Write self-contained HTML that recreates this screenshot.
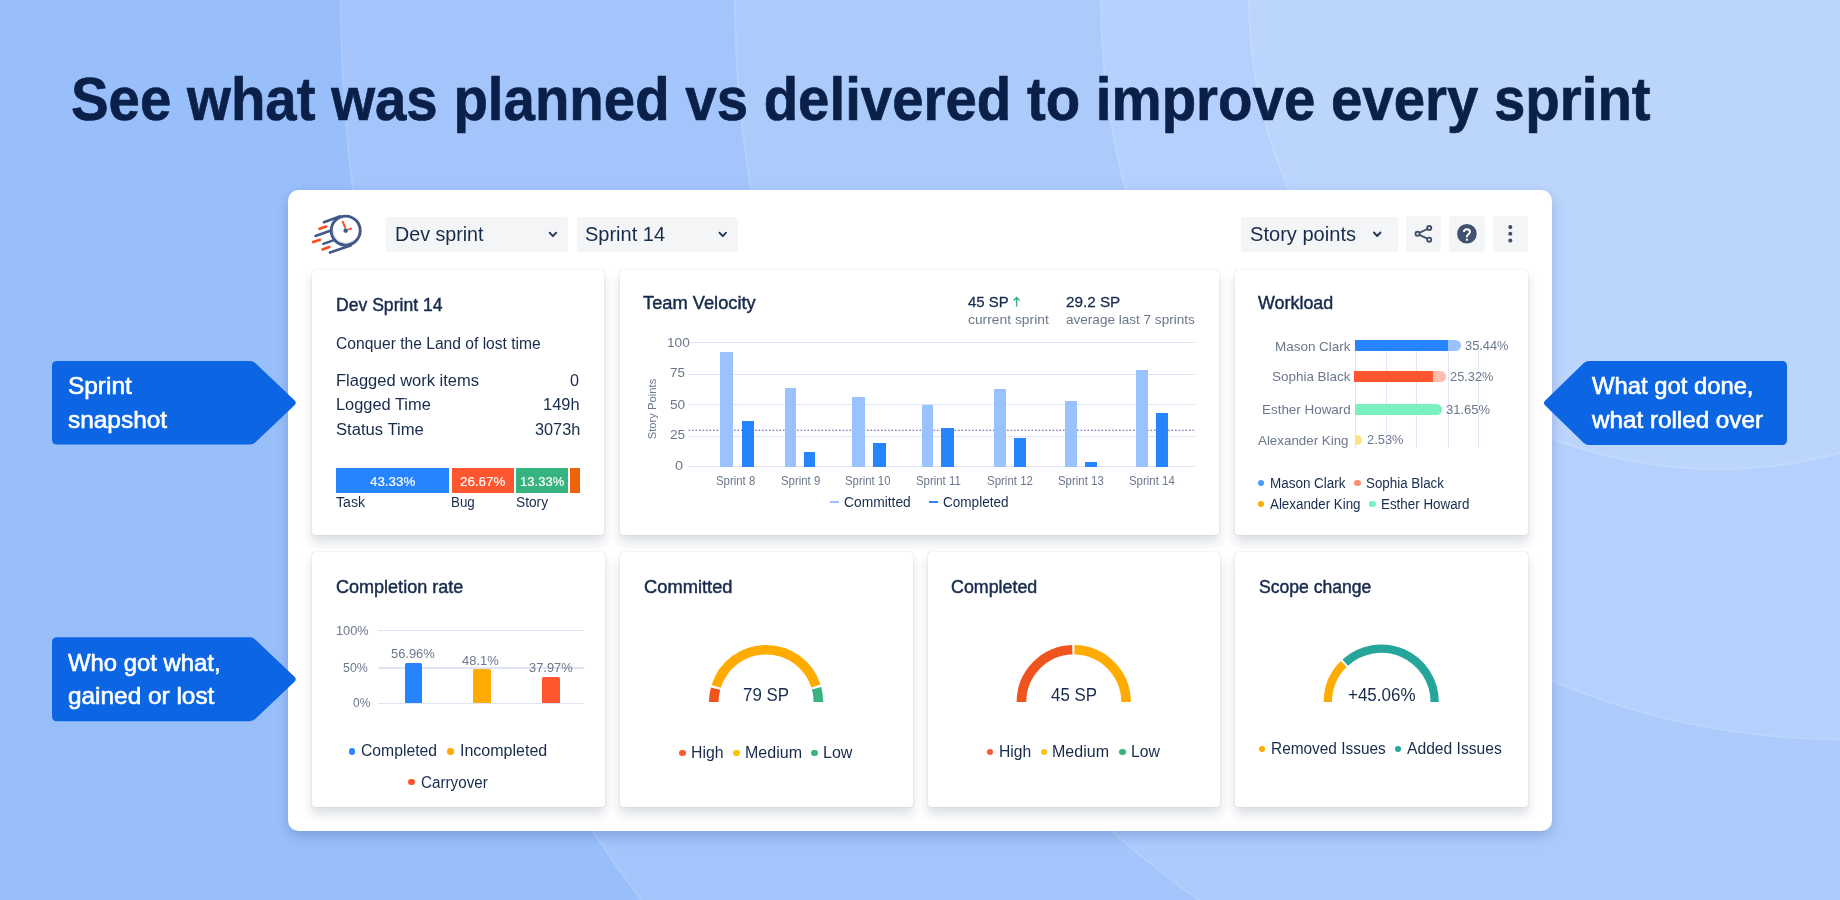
<!DOCTYPE html>
<html lang="en"><head><meta charset="utf-8"><title>Sprint report</title>
<style>
html,body{margin:0;padding:0}
body{width:1840px;height:900px;overflow:hidden;position:relative;background:#99BFFB;font-family:"Liberation Sans",sans-serif}
#stage{position:absolute;left:0;top:0;width:1840px;height:900px;overflow:hidden;will-change:transform}
.t{position:absolute;white-space:nowrap;line-height:1;transform-origin:0 0;font-weight:400}
.b{font-weight:700}
.r{position:absolute}
.s{position:absolute;overflow:visible;pointer-events:none}
.bgc{position:absolute;border-radius:50%;background:rgba(255,255,255,0.10);box-shadow:inset 0 0 0 2px rgba(255,255,255,0.10)}
.panel{position:absolute;left:288px;top:190px;width:1264px;height:641px;background:#fff;border-radius:10.5px;box-shadow:0 5px 13px rgba(15,45,120,0.22)}
.card{position:absolute;background:#fff;border-radius:3px;box-shadow:0 0 1px rgba(9,30,66,0.31),0 7px 11px rgba(9,30,66,0.15)}
</style></head>
<body>
<div id="stage">
<div class="bgc" style="left:340px;top:-1500px;width:3000px;height:3000px"></div>
<div class="bgc" style="left:734px;top:-1106px;width:2212px;height:2212px"></div>
<div class="bgc" style="left:1100px;top:-740px;width:1480px;height:1480px"></div>
<div class="bgc" style="left:1248px;top:-470px;width:940px;height:940px"></div>
<span class="t b" style="left:70.70px;top:68px;font-size:62px;color:#0A2048;transform:scaleX(0.9096);-webkit-text-stroke:0.7px currentColor;">See what was planned vs delivered to improve every sprint</span>
<div class="panel"></div>
<svg class="s" style="left:0;top:0" width="1840" height="900"><path d="M57,361 H250 Q253,361 255.2,363.1 L294.5,400.35 Q297.1,402.8 294.5,405.25 L255.2,442.5 Q253,444.6 250,444.6 H57 Q52,444.6 52,439.6 V366 Q52,361 57,361 Z" fill="#0C66E4"/></svg>
<svg class="s" style="left:0;top:0" width="1840" height="900"><path d="M57,637.3 H250 Q253,637.3 255.2,639.4 L294.5,676.8 Q297.1,679.25 294.5,681.7 L255.2,719.1 Q253,721.2 250,721.2 H57 Q52,721.2 52,716.2 V642.3 Q52,637.3 57,637.3 Z" fill="#0C66E4"/></svg>
<svg class="s" style="left:0;top:0" width="1840" height="900"><path d="M1782,361 H1589 Q1586,361 1583.8,363.1 L1545.25,400.55 Q1542.65,403.0 1545.25,405.45 L1583.8,442.9 Q1586,445 1589,445 H1782 Q1787,445 1787,440 V366 Q1787,361 1782,361 Z" fill="#0C66E4"/></svg>
<span class="t" style="left:68.40px;top:374px;font-size:24px;color:#FFFFFF;transform:scaleX(1.0175);-webkit-text-stroke:0.60px currentColor;">Sprint</span>
<span class="t" style="left:68.40px;top:408px;font-size:24px;color:#FFFFFF;transform:scaleX(1.0174);-webkit-text-stroke:0.60px currentColor;">snapshot</span>
<span class="t" style="left:68.40px;top:651px;font-size:24px;color:#FFFFFF;transform:scaleX(0.9941);-webkit-text-stroke:0.60px currentColor;">Who got what,</span>
<span class="t" style="left:68.40px;top:684px;font-size:24px;color:#FFFFFF;transform:scaleX(1.0160);-webkit-text-stroke:0.60px currentColor;">gained or lost</span>
<span class="t" style="left:1592.00px;top:374px;font-size:24px;color:#FFFFFF;transform:scaleX(0.9921);-webkit-text-stroke:0.60px currentColor;">What got done,</span>
<span class="t" style="left:1592.04px;top:408px;font-size:24px;color:#FFFFFF;transform:scaleX(1.0091);-webkit-text-stroke:0.60px currentColor;">what rolled over</span>
<div class="r" style="left:386.25px;top:216.50px;width:182.00px;height:35.00px;background:#F4F5F7;border-radius:3.5px"></div>
<div class="r" style="left:576.50px;top:216.50px;width:161.50px;height:35.00px;background:#F4F5F7;border-radius:3.5px"></div>
<div class="r" style="left:1241.00px;top:216.50px;width:156.60px;height:35.00px;background:#F4F5F7;border-radius:3.5px"></div>
<div class="r" style="left:1406.00px;top:216.25px;width:35.25px;height:35.50px;background:#F4F5F7;border-radius:3.5px"></div>
<div class="r" style="left:1449.25px;top:216.25px;width:35.25px;height:35.50px;background:#F4F5F7;border-radius:3.5px"></div>
<div class="r" style="left:1492.50px;top:216.25px;width:35.50px;height:35.50px;background:#F4F5F7;border-radius:3.5px"></div>
<span class="t" style="left:395.00px;top:224px;font-size:20px;color:#172B4D;transform:scaleX(0.9830);">Dev sprint</span>
<span class="t" style="left:585.00px;top:224px;font-size:20px;color:#172B4D;transform:scaleX(0.9994);">Sprint 14</span>
<span class="t" style="left:1249.50px;top:224px;font-size:20px;color:#172B4D;transform:scaleX(1.0037);">Story points</span>
<svg class="s" style="left:0;top:0" width="1840" height="900"><path d="M549.6,232.7 L552.9,236.2 L556.1999999999999,232.7" fill="none" stroke="#253858" stroke-width="1.9" stroke-linecap="round" stroke-linejoin="round"/><path d="M719.45,232.7 L722.75,236.2 L726.05,232.7" fill="none" stroke="#253858" stroke-width="1.9" stroke-linecap="round" stroke-linejoin="round"/><path d="M1373.9,232.5 L1377.2,236.0 L1380.5,232.5" fill="none" stroke="#253858" stroke-width="1.9" stroke-linecap="round" stroke-linejoin="round"/><g fill="none" stroke="#42526E" stroke-width="1.9"><path d="M1419.4,232.9 L1427.3,229 M1419.4,234.8 L1427.3,238.7"/><circle cx="1417.5" cy="233.8" r="2.05"/><circle cx="1429.2" cy="228" r="2.05"/><circle cx="1429.2" cy="239.7" r="2.05"/></g><circle cx="1466.9" cy="233.8" r="9.8" fill="#42526E"/><path d="M1464.0,232.0 Q1464.0,229.3 1466.9,229.3 Q1469.9,229.3 1469.9,231.8 Q1469.9,233.3 1468.3,234.4 Q1466.9,235.3 1466.9,237.3" fill="none" stroke="#fff" stroke-width="2.0"/><rect x="1465.9" y="238.7" width="2.0" height="2.0" fill="#fff"/><circle cx="1510.3" cy="227.1" r="2.05" fill="#42526E"/><circle cx="1510.3" cy="233.8" r="2.05" fill="#42526E"/><circle cx="1510.3" cy="240.6" r="2.05" fill="#42526E"/><g fill="none" stroke-linecap="round"><circle cx="345.7" cy="230.6" r="14.5" stroke="#42588A" stroke-width="2.9"/><path d="M323.9,222.2 L340.2,216.3 M315.5,235.9 L330.3,230.7 M323.4,243.9 L333.2,240.4 M330.0,252.6 L350.6,245.6" stroke="#42588A" stroke-width="2.6"/><path d="M319.5,228.8 L326.2,226.5 M313.2,242.1 L320,239.8 M322.5,249.4 L329.3,247.1" stroke="#FF4A1C" stroke-width="2.6"/><path d="M342.8,221.9 L345,227.2" stroke="#FF4A1C" stroke-width="2.0"/><path d="M349.1,229.3 L351.1,228.5" stroke="#FF4A1C" stroke-width="1.9"/></g><path d="M333.5,230.6 A12.2,12.2 0 0 0 353.5,240" fill="none" stroke="#D0D0D0" stroke-width="1" opacity=".7"/><circle cx="345.7" cy="230.6" r="2.3" fill="#42588A"/></svg>
<div class="card" style="left:312px;top:269.5px;width:292.25px;height:265.9px"></div>
<div class="card" style="left:619.5px;top:269.5px;width:599.75px;height:265.9px"></div>
<div class="card" style="left:1234.5px;top:269.5px;width:293.0px;height:265.9px"></div>
<div class="card" style="left:312px;top:552px;width:293px;height:254.75px"></div>
<div class="card" style="left:620px;top:552px;width:292.5px;height:254.75px"></div>
<div class="card" style="left:927.5px;top:552px;width:292.5px;height:254.75px"></div>
<div class="card" style="left:1235px;top:552px;width:292.5px;height:254.75px"></div>
<span class="t" style="left:335.75px;top:296px;font-size:18px;color:#172B4D;transform:scaleX(0.9766);-webkit-text-stroke:0.45px currentColor;">Dev Sprint 14</span>
<span class="t" style="left:335.75px;top:336px;font-size:16px;color:#172B4D;transform:scaleX(0.9754);">Conquer the Land of lost time</span>
<span class="t" style="left:335.75px;top:373px;font-size:16px;color:#172B4D;transform:scaleX(1.0309);">Flagged work items</span>
<span class="t" style="left:570.25px;top:373px;font-size:16px;color:#172B4D;transform:scaleX(1.0117);">0</span>
<span class="t" style="left:335.75px;top:397px;font-size:16px;color:#172B4D;transform:scaleX(1.0242);">Logged Time</span>
<span class="t" style="left:543.25px;top:397px;font-size:16px;color:#172B4D;transform:scaleX(1.0255);">149h</span>
<span class="t" style="left:335.75px;top:422px;font-size:16px;color:#172B4D;transform:scaleX(1.0387);">Status Time</span>
<span class="t" style="left:534.50px;top:422px;font-size:16px;color:#172B4D;transform:scaleX(1.0169);">3073h</span>
<div class="r" style="left:336.25px;top:468.25px;width:113.00px;height:24.25px;background:#2684FF;"></div>
<div class="r" style="left:451.50px;top:468.25px;width:62.25px;height:24.25px;background:#FF5630;"></div>
<div class="r" style="left:516.00px;top:468.25px;width:52.00px;height:24.25px;background:#36B37E;"></div>
<div class="r" style="left:570.25px;top:468.25px;width:10.00px;height:24.25px;background:#EC6409;"></div>
<span class="t" style="left:369.50px;top:475px;font-size:13px;color:#FFFFFF;transform:scaleX(1.0263);-webkit-text-stroke:0.15px currentColor;">43.33%</span>
<span class="t" style="left:459.50px;top:475px;font-size:13px;color:#FFFFFF;transform:scaleX(1.0263);-webkit-text-stroke:0.15px currentColor;">26.67%</span>
<span class="t" style="left:519.50px;top:475px;font-size:13px;color:#FFFFFF;transform:scaleX(1.0036);-webkit-text-stroke:0.15px currentColor;">13.33%</span>
<span class="t" style="left:335.75px;top:495px;font-size:14px;color:#172B4D;transform:scaleX(1.0068);">Task</span>
<span class="t" style="left:451.00px;top:495px;font-size:14px;color:#172B4D;transform:scaleX(0.9533);">Bug</span>
<span class="t" style="left:515.50px;top:495px;font-size:14px;color:#172B4D;transform:scaleX(0.9793);">Story</span>
<span class="t" style="left:643.25px;top:294px;font-size:18px;color:#172B4D;transform:scaleX(1.0153);-webkit-text-stroke:0.45px currentColor;">Team Velocity</span>
<span class="t" style="left:967.50px;top:294px;font-size:15.5px;color:#172B4D;transform:scaleX(0.9651);-webkit-text-stroke:0.28px currentColor;">45 SP</span>
<span class="t" style="left:967.50px;top:313px;font-size:13.5px;color:#6B778C;transform:scaleX(1.0250);">current sprint</span>
<span class="t" style="left:1066.25px;top:294px;font-size:15.5px;color:#172B4D;transform:scaleX(0.9837);-webkit-text-stroke:0.28px currentColor;">29.2 SP</span>
<span class="t" style="left:1066.25px;top:313px;font-size:13.5px;color:#6B778C;transform:scaleX(1.0034);">average last 7 sprints</span>
<div class="r" style="left:688.25px;top:341.75px;width:506.25px;height:1.10px;background:#DFE5F4;"></div>
<div class="r" style="left:688.25px;top:373.75px;width:506.25px;height:1.10px;background:#DFE5F4;"></div>
<div class="r" style="left:688.25px;top:403.85px;width:506.25px;height:1.10px;background:#DFE5F4;"></div>
<div class="r" style="left:688.25px;top:436.15px;width:506.25px;height:1.10px;background:#DFE5F4;"></div>
<div class="r" style="left:688.25px;top:466.35px;width:506.25px;height:1.10px;background:#DFE5F4;"></div>
<span class="t" style="left:666.50px;top:336px;font-size:13px;color:#6B778C;transform:scaleX(1.0488);">100</span>
<span class="t" style="left:670.00px;top:366px;font-size:13px;color:#6B778C;transform:scaleX(1.0372);">75</span>
<span class="t" style="left:670.00px;top:398px;font-size:13px;color:#6B778C;transform:scaleX(1.0545);">50</span>
<span class="t" style="left:670.00px;top:428px;font-size:13px;color:#6B778C;transform:scaleX(1.0545);">25</span>
<span class="t" style="left:675.00px;top:459px;font-size:13px;color:#6B778C;transform:scaleX(1.1068);">0</span>
<svg class="s" style="left:0;top:0" width="1840" height="900"><line x1="688.5" y1="430.3" x2="1194" y2="430.3" stroke="#5E4DB2" stroke-width="1.1" stroke-dasharray="1.6 1.9"/></svg>
<div class="r" style="left:720.00px;top:351.50px;width:13.25px;height:115.90px;background:#99C2FF;"></div>
<div class="r" style="left:741.75px;top:421.25px;width:12.00px;height:46.15px;background:#2684FF;"></div>
<div class="r" style="left:784.75px;top:387.75px;width:11.00px;height:79.65px;background:#99C2FF;"></div>
<div class="r" style="left:803.75px;top:452.00px;width:11.25px;height:15.40px;background:#2684FF;"></div>
<div class="r" style="left:851.50px;top:396.50px;width:13.25px;height:70.90px;background:#99C2FF;"></div>
<div class="r" style="left:872.75px;top:443.25px;width:13.25px;height:24.15px;background:#2684FF;"></div>
<div class="r" style="left:921.75px;top:405.25px;width:11.00px;height:62.15px;background:#99C2FF;"></div>
<div class="r" style="left:941.00px;top:427.75px;width:13.25px;height:39.65px;background:#2684FF;"></div>
<div class="r" style="left:994.00px;top:389.25px;width:12.00px;height:78.15px;background:#99C2FF;"></div>
<div class="r" style="left:1014.00px;top:438.25px;width:12.25px;height:29.15px;background:#2684FF;"></div>
<div class="r" style="left:1065.00px;top:400.50px;width:12.00px;height:66.90px;background:#99C2FF;"></div>
<div class="r" style="left:1085.00px;top:461.50px;width:12.25px;height:5.90px;background:#2684FF;"></div>
<div class="r" style="left:1135.75px;top:370.00px;width:12.00px;height:97.40px;background:#99C2FF;"></div>
<div class="r" style="left:1156.00px;top:412.75px;width:12.00px;height:54.65px;background:#2684FF;"></div>
<span class="t" style="left:716.25px;top:475px;font-size:12px;color:#6B778C;transform:scaleX(0.9490);">Sprint 8</span>
<span class="t" style="left:780.75px;top:475px;font-size:12px;color:#6B778C;transform:scaleX(0.9490);">Sprint 9</span>
<span class="t" style="left:845.00px;top:475px;font-size:12px;color:#6B778C;transform:scaleX(0.9473);">Sprint 10</span>
<span class="t" style="left:916.25px;top:475px;font-size:12px;color:#6B778C;transform:scaleX(0.9493);">Sprint 11</span>
<span class="t" style="left:987.10px;top:475px;font-size:12px;color:#6B778C;transform:scaleX(0.9557);">Sprint 12</span>
<span class="t" style="left:1058.25px;top:475px;font-size:12px;color:#6B778C;transform:scaleX(0.9525);">Sprint 13</span>
<span class="t" style="left:1129.25px;top:475px;font-size:12px;color:#6B778C;transform:scaleX(0.9525);">Sprint 14</span>
<div class="r" style="left:830.00px;top:501.30px;width:8.75px;height:2.00px;background:#99C2FF;"></div>
<div class="r" style="left:928.75px;top:501.30px;width:8.75px;height:2.00px;background:#2684FF;"></div>
<span class="t" style="left:843.75px;top:495px;font-size:14.5px;color:#172B4D;transform:scaleX(0.9522);">Committed</span>
<span class="t" style="left:942.50px;top:495px;font-size:14.5px;color:#172B4D;transform:scaleX(0.9341);">Completed</span>
<span class="t" style="left:653px;top:409px;font-size:11.5px;color:#6B778C;transform:translate(-50%,-50%) rotate(-90deg) scaleX(0.9759);transform-origin:50% 50%">Story Points</span>
<svg class="s" style="left:0;top:0" width="1840" height="900"><path d="M1016.6,306.4 V297.8 M1013.6,300.6 L1016.6,297.5 L1019.6,300.6" fill="none" stroke="#36B37E" stroke-width="1.4"/></svg>
<span class="t" style="left:1258.25px;top:294px;font-size:18px;color:#172B4D;transform:scaleX(0.9941);-webkit-text-stroke:0.45px currentColor;">Workload</span>
<div class="r" style="left:1355.15px;top:340.00px;width:1.20px;height:108.00px;background:#DFE5F4;"></div>
<div class="r" style="left:1385.65px;top:340.00px;width:1.20px;height:108.00px;background:#DFE5F4;"></div>
<div class="r" style="left:1415.90px;top:340.00px;width:1.20px;height:108.00px;background:#DFE5F4;"></div>
<div class="r" style="left:1447.65px;top:340.00px;width:1.20px;height:108.00px;background:#DFE5F4;"></div>
<div class="r" style="left:1478.15px;top:340.00px;width:1.20px;height:108.00px;background:#DFE5F4;"></div>
<div class="r" style="left:1355.00px;top:340.10px;width:105.50px;height:11.00px;background:#99C2FF;border-radius:0 5.50px 5.50px 0"></div>
<div class="r" style="left:1355.00px;top:340.10px;width:93.00px;height:11.00px;background:#2684FF;"></div>
<div class="r" style="left:1354.25px;top:371.00px;width:91.25px;height:10.75px;background:#FFBDAD;border-radius:0 5.38px 5.38px 0"></div>
<div class="r" style="left:1354.25px;top:371.00px;width:78.75px;height:10.75px;background:#FF5630;"></div>
<div class="r" style="left:1355.00px;top:404.00px;width:86.75px;height:10.75px;background:#79F2C0;border-radius:0 5.38px 5.38px 0"></div>
<div class="r" style="left:1355.00px;top:434.50px;width:6.75px;height:10.50px;background:#FFE380;border-radius:0 5.25px 5.25px 0"></div>
<span class="t" style="left:1274.50px;top:340px;font-size:13.5px;color:#6B778C;transform:scaleX(0.9961);">Mason Clark</span>
<span class="t" style="left:1271.50px;top:370px;font-size:13.5px;color:#6B778C;transform:scaleX(0.9959);">Sophia Black</span>
<span class="t" style="left:1261.50px;top:403px;font-size:13.5px;color:#6B778C;transform:scaleX(0.9940);">Esther Howard</span>
<span class="t" style="left:1258.25px;top:434px;font-size:13.5px;color:#6B778C;transform:scaleX(0.9884);">Alexander King</span>
<span class="t" style="left:1465.00px;top:339px;font-size:13.5px;color:#6B778C;transform:scaleX(0.9501);">35.44%</span>
<span class="t" style="left:1450.00px;top:370px;font-size:13.5px;color:#6B778C;transform:scaleX(0.9501);">25.32%</span>
<span class="t" style="left:1446.00px;top:403px;font-size:13.5px;color:#6B778C;transform:scaleX(0.9610);">31.65%</span>
<span class="t" style="left:1367.00px;top:433px;font-size:13.5px;color:#6B778C;transform:scaleX(0.9535);">2.53%</span>
<div class="r" style="left:1258.15px;top:480.15px;width:6.20px;height:6.20px;border-radius:50%;background:#4C9AFF"></div>
<span class="t" style="left:1269.50px;top:476px;font-size:14px;color:#172B4D;transform:scaleX(0.9605);">Mason Clark</span>
<div class="r" style="left:1354.40px;top:480.15px;width:6.20px;height:6.20px;border-radius:50%;background:#FF8F73"></div>
<span class="t" style="left:1365.75px;top:476px;font-size:14px;color:#172B4D;transform:scaleX(0.9543);">Sophia Black</span>
<div class="r" style="left:1258.15px;top:501.15px;width:6.20px;height:6.20px;border-radius:50%;background:#FFAB00"></div>
<span class="t" style="left:1269.50px;top:497px;font-size:14px;color:#172B4D;transform:scaleX(0.9531);">Alexander King</span>
<div class="r" style="left:1369.40px;top:501.15px;width:6.20px;height:6.20px;border-radius:50%;background:#79F2C0"></div>
<span class="t" style="left:1380.75px;top:497px;font-size:14px;color:#172B4D;transform:scaleX(0.9558);">Esther Howard</span>
<span class="t" style="left:335.75px;top:578px;font-size:18px;color:#172B4D;transform:scaleX(1.0015);-webkit-text-stroke:0.45px currentColor;">Completion rate</span>
<div class="r" style="left:378.00px;top:629.70px;width:205.75px;height:1.10px;background:#DFE5F4;"></div>
<div class="r" style="left:378.00px;top:667.45px;width:205.75px;height:1.10px;background:#DFE5F4;"></div>
<div class="r" style="left:378.00px;top:702.70px;width:205.75px;height:1.10px;background:#DFE5F4;"></div>
<span class="t" style="left:335.75px;top:624px;font-size:13px;color:#6B778C;transform:scaleX(0.9850);">100%</span>
<span class="t" style="left:343.25px;top:661px;font-size:13px;color:#6B778C;transform:scaleX(0.9512);">50%</span>
<span class="t" style="left:352.50px;top:696px;font-size:13px;color:#6B778C;transform:scaleX(0.9180);">0%</span>
<div class="r" style="left:404.50px;top:663.00px;width:17.00px;height:40.25px;background:#2684FF;border-radius:1.5px 1.5px 0 0"></div>
<div class="r" style="left:472.75px;top:669.25px;width:18.25px;height:34.00px;background:#FFAB00;border-radius:1.5px 1.5px 0 0"></div>
<div class="r" style="left:542.00px;top:676.50px;width:18.25px;height:26.75px;background:#FF5630;border-radius:1.5px 1.5px 0 0"></div>
<span class="t" style="left:391.25px;top:647px;font-size:13px;color:#6B778C;transform:scaleX(0.9923);">56.96%</span>
<span class="t" style="left:462.00px;top:654px;font-size:13px;color:#6B778C;transform:scaleX(0.9970);">48.1%</span>
<span class="t" style="left:528.75px;top:661px;font-size:13px;color:#6B778C;transform:scaleX(0.9923);">37.97%</span>
<div class="r" style="left:348.50px;top:748.25px;width:6.50px;height:6.50px;border-radius:50%;background:#2684FF"></div>
<span class="t" style="left:361.25px;top:743px;font-size:16px;color:#172B4D;transform:scaleX(0.9822);">Completed</span>
<div class="r" style="left:447.00px;top:748.25px;width:6.50px;height:6.50px;border-radius:50%;background:#FFAB00"></div>
<span class="t" style="left:459.50px;top:743px;font-size:16px;color:#172B4D;transform:scaleX(1.0009);">Incompleted</span>
<div class="r" style="left:408.25px;top:778.75px;width:6.50px;height:6.50px;border-radius:50%;background:#FF5630"></div>
<span class="t" style="left:421.25px;top:775px;font-size:16px;color:#172B4D;transform:scaleX(0.9504);">Carryover</span>
<svg class="s" style="left:0;top:0" width="1840" height="900"><path d="M713.80,702.00 A52.3,52.3 0 0 1 715.54,688.64" fill="none" stroke="#F0541E" stroke-width="9.6"/><path d="M716.19,686.36 A52.3,52.3 0 0 1 815.90,686.01" fill="none" stroke="#FFAB00" stroke-width="9.6"/><path d="M816.57,688.29 A52.3,52.3 0 0 1 818.40,702.00" fill="none" stroke="#36B37E" stroke-width="9.6"/><path d="M1021.45,702.00 A52.3,52.3 0 0 1 1072.29,649.72" fill="none" stroke="#F0541E" stroke-width="9.6"/><path d="M1074.48,649.71 A52.3,52.3 0 0 1 1126.05,702.00" fill="none" stroke="#FFAB00" stroke-width="9.6"/><path d="M1327.85,702.00 A53.4,53.4 0 0 1 1343.76,663.98" fill="none" stroke="#FFAB00" stroke-width="8.3"/><path d="M1345.24,662.57 A53.4,53.4 0 0 1 1434.65,702.00" fill="none" stroke="#26A69A" stroke-width="8.3"/></svg>
<span class="t" style="left:643.75px;top:578px;font-size:18px;color:#172B4D;transform:scaleX(1.0170);-webkit-text-stroke:0.45px currentColor;">Committed</span>
<span class="t" style="left:743.25px;top:686px;font-size:18px;color:#172B4D;transform:scaleX(0.9382);">79 SP</span>
<div class="r" style="left:679.25px;top:749.75px;width:6.50px;height:6.50px;border-radius:50%;background:#FF5630"></div>
<span class="t" style="left:691.25px;top:745px;font-size:16px;color:#172B4D;transform:scaleX(0.9877);">High</span>
<div class="r" style="left:733.25px;top:749.75px;width:6.50px;height:6.50px;border-radius:50%;background:#FFC400"></div>
<span class="t" style="left:745.25px;top:745px;font-size:16px;color:#172B4D;transform:scaleX(1.0017);">Medium</span>
<div class="r" style="left:811.00px;top:749.75px;width:6.50px;height:6.50px;border-radius:50%;background:#36B37E"></div>
<span class="t" style="left:822.75px;top:745px;font-size:16px;color:#172B4D;transform:scaleX(1.0034);">Low</span>
<span class="t" style="left:951.25px;top:578px;font-size:18px;color:#172B4D;transform:scaleX(0.9908);-webkit-text-stroke:0.45px currentColor;">Completed</span>
<span class="t" style="left:1050.75px;top:686px;font-size:18px;color:#172B4D;transform:scaleX(0.9382);">45 SP</span>
<div class="r" style="left:986.50px;top:748.75px;width:6.50px;height:6.50px;border-radius:50%;background:#FF5630"></div>
<span class="t" style="left:998.50px;top:744px;font-size:16px;color:#172B4D;transform:scaleX(0.9801);">High</span>
<div class="r" style="left:1040.50px;top:748.75px;width:6.50px;height:6.50px;border-radius:50%;background:#FFC400"></div>
<span class="t" style="left:1052.25px;top:744px;font-size:16px;color:#172B4D;transform:scaleX(1.0017);">Medium</span>
<div class="r" style="left:1119.25px;top:748.75px;width:6.50px;height:6.50px;border-radius:50%;background:#36B37E"></div>
<span class="t" style="left:1131.00px;top:744px;font-size:16px;color:#172B4D;transform:scaleX(0.9864);">Low</span>
<span class="t" style="left:1258.75px;top:578px;font-size:18px;color:#172B4D;transform:scaleX(0.9753);-webkit-text-stroke:0.45px currentColor;">Scope change</span>
<span class="t" style="left:1347.50px;top:686px;font-size:18px;color:#172B4D;transform:scaleX(0.9433);">+45.06%</span>
<div class="r" style="left:1258.75px;top:745.50px;width:6.50px;height:6.50px;border-radius:50%;background:#FFAB00"></div>
<span class="t" style="left:1270.75px;top:741px;font-size:16px;color:#172B4D;transform:scaleX(0.9629);">Removed Issues</span>
<div class="r" style="left:1394.75px;top:745.50px;width:6.50px;height:6.50px;border-radius:50%;background:#26A69A"></div>
<span class="t" style="left:1406.50px;top:741px;font-size:16px;color:#172B4D;transform:scaleX(0.9773);">Added Issues</span>
</div>
</body></html>
